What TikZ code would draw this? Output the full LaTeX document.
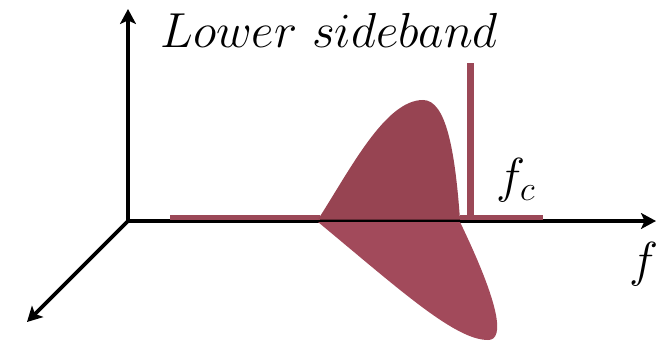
\RequirePackage{fix-cm}
\documentclass[tikz,border=0pt]{standalone}
\usetikzlibrary{arrows.meta}
\definecolor{lsbup}{RGB}{151,68,82}
\definecolor{lsbdown}{RGB}{162,74,91}
\definecolor{lsbbar}{RGB}{155,72,87}

\begin{document}
\begin{tikzpicture}[
  x=0.02cm, y=-0.02cm,
  axis/.style={draw=black, line width=2.1pt, -{Stealth[length=8.5pt,width=9pt,inset=2pt]}},
  bigmath/.style={font=\fontsize{28}{33}\selectfont, inner sep=0pt, anchor=base west}
]
\useasboundingbox (0,0) rectangle (656,341);

%--------------------------------------------------------------
% Assi
%--------------------------------------------------------------
\coordinate (o) at (128,221);
\coordinate (ytip) at (128,9);
\coordinate (xtip) at (656,221);
\coordinate (ztip) at (27,322);
\draw[axis] (o) -- (ytip);
\draw[axis] (o) -- (xtip);
\draw[axis] (o) -- (ztip);

%--------------------------------------------------------------
% Spettro
%--------------------------------------------------------------
\fill[lsbbar] (170,215) rectangle (320,219.5);
\fill[lsbbar] (460,215) rectangle (543,219.5);
\fill[lsbbar] (467,63) rectangle (474,219.5);

\fill[lsbup] (318,219.5) .. controls (350,170) and (385,100) .. (423,100)
  .. controls (446,100) and (455,150) .. (460,219.5) -- cycle;
\fill[lsbdown] (318,222) .. controls (400,290) and (455,340) .. (488,340)
  .. controls (505,340) and (500,305) .. (460,222) -- cycle;

%--------------------------------------------------------------
% Etichette
%--------------------------------------------------------------
\node[bigmath] (titolo) at (160,48) {$Lower\ sideband$};
\node[bigmath] (fc) at (496,193) {$f_c$};
\node[bigmath] (fasse) at (629,276) {$f$};

\end{tikzpicture}
\end{document}
